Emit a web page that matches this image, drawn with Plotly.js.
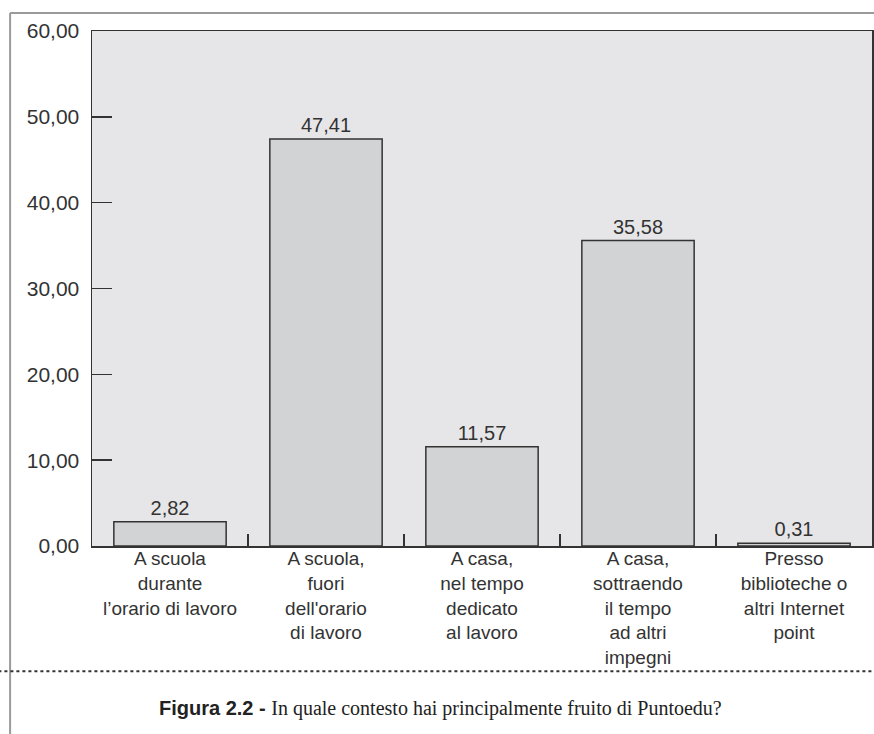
<!DOCTYPE html>
<html>
<head>
<meta charset="utf-8">
<script src="https://cdn.plot.ly/plotly-3.0.1.min.js"></script>
<style>
  html, body { margin: 0; padding: 0; background: #ffffff; }
  #chart { width: 874px; height: 734px; }
</style>
</head>
<body>
<div id="chart"></div>
<script>
// Contesti di fruizione di Puntoedu (percentuali)
const categories = [
  "A scuola<br>durante<br>l\u2019orario di lavoro",
  "A scuola,<br>fuori<br>dell'orario<br>di lavoro",
  "A casa,<br>nel tempo<br>dedicato<br>al lavoro",
  "A casa,<br>sottraendo<br>il tempo<br>ad altri<br>impegni",
  "Presso<br>biblioteche o<br>altri Internet<br>point"
];
const percentuali = [2.82, 47.41, 11.57, 35.58, 0.31];
const yTicks = [0, 10, 20, 30, 40, 50, 60];

const sansFont = "Liberation Sans, Arial, sans-serif";

const trace = {
  type: "bar",
  x: categories,
  y: percentuali,
  width: 0.72,
  marker: { color: "#d2d3d5", line: { color: "#333333", width: 1.5 } },
  texttemplate: "%{y:.2f}",
  textposition: "outside",
  cliponaxis: false,
  textfont: { family: sansFont, size: 20, color: "#333333" },
  hoverinfo: "skip"
};

const layout = {
  width: 874,
  height: 734,
  margin: { l: 92, r: 2, t: 31, b: 188 },
  paper_bgcolor: "#ffffff",
  plot_bgcolor: "#e6e6e8",
  separators: ",.",
  showlegend: false,
  xaxis: {
    type: "category",
    range: [-0.5, 4.5],
    showline: true,
    linecolor: "#333333",
    linewidth: 1.5,
    mirror: true,
    showgrid: false,
    tickson: "boundaries",
    ticks: "inside",
    ticklen: 12,
    tickwidth: 1.5,
    tickcolor: "#333333",
    ticklabelstandoff: -5,
    tickfont: { family: sansFont, size: 19, color: "#333333" },
    fixedrange: true
  },
  yaxis: {
    range: [0, 60],
    tickvals: yTicks,
    tickformat: ".2f",
    showline: true,
    linecolor: "#333333",
    linewidth: 1.5,
    mirror: true,
    showgrid: false,
    zeroline: false,
    ticks: "inside",
    ticklen: 20,
    tickwidth: 1.5,
    tickcolor: "#333333",
    ticklabelstandoff: 7,
    tickfont: { family: sansFont, size: 21, color: "#333333" },
    fixedrange: true
  },
  shapes: [
    // cornice esterna grigia
    { type: "line", xref: "paper", yref: "paper", x0: -0.105, x1: 1.01, y0: 1.035, y1: 1.035,
      line: { color: "#9a9a9a", width: 2 } },
    { type: "line", xref: "paper", yref: "paper", x0: -0.105, x1: -0.105, y0: 1.035, y1: -0.37,
      line: { color: "#9a9a9a", width: 2 } },
    // separatore punteggiato sopra la didascalia
    { type: "line", xref: "paper", yref: "paper", x0: -0.12, x1: 1.01, y0: -0.243, y1: -0.243,
      line: { color: "#333333", width: 2, dash: "dot" } }
  ],
  annotations: [
    {
      xref: "paper", yref: "paper", x: 0.447, y: -0.315,
      xanchor: "center", yanchor: "middle", showarrow: false,
      text: "<b>Figura 2.2 -</b> <span style=\"font-family:'Liberation Serif', 'DejaVu Serif', serif\">In quale contesto hai principalmente fruito di Puntoedu?</span>",
      font: { family: sansFont, size: 20, color: "#222222" }
    }
  ]
};

Plotly.newPlot("chart", [trace], layout, { displayModeBar: false, staticPlot: true });
</script>
</body>
</html>
